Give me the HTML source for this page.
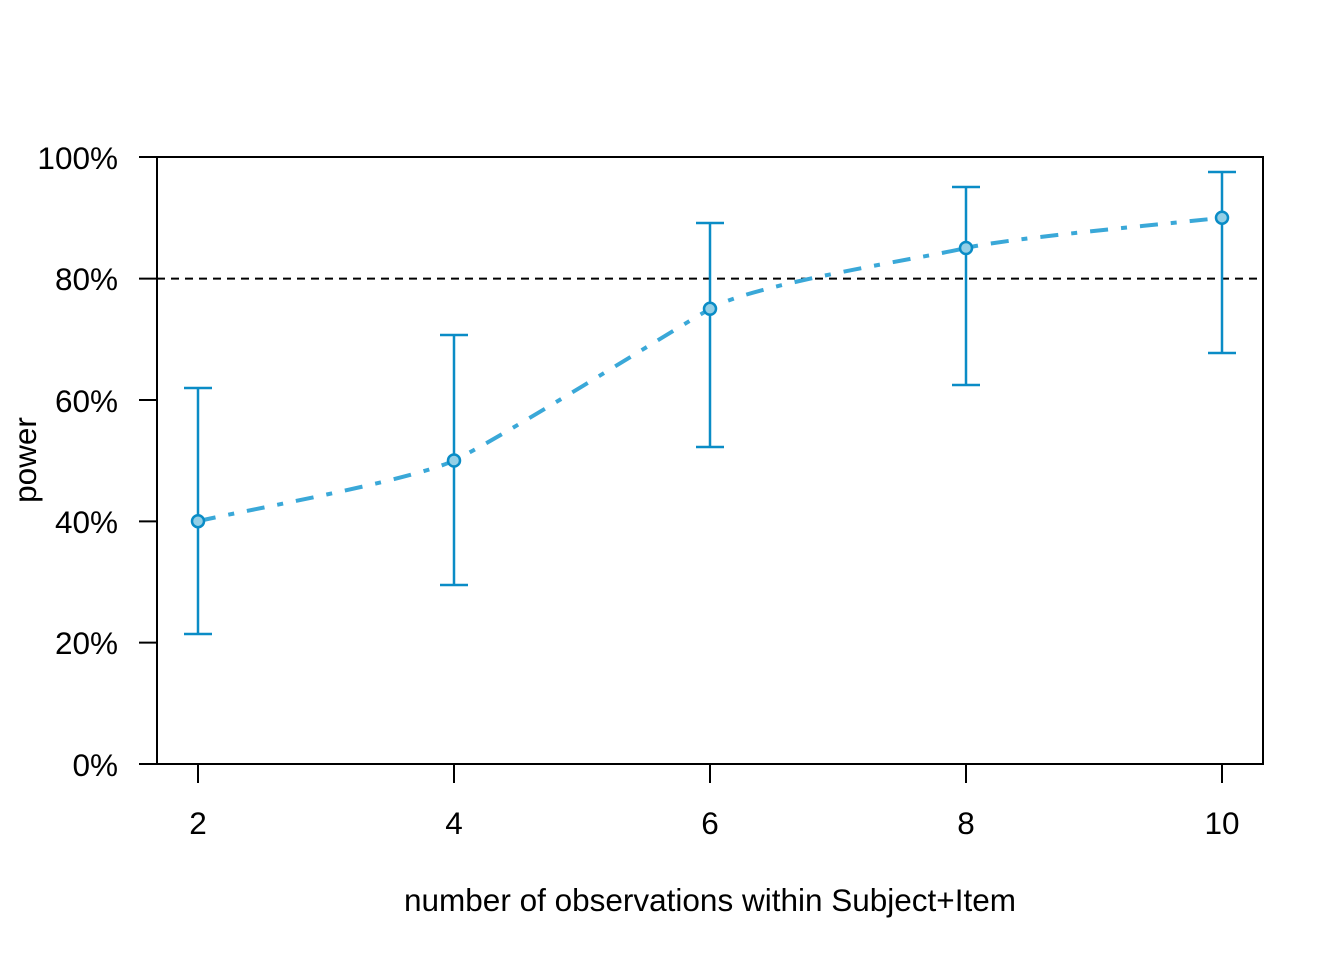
<!DOCTYPE html>
<html><head><meta charset="utf-8"><style>body{margin:0;background:#fff}svg{display:block}text{font-family:"Liberation Sans",Arial,sans-serif;fill:#000}</style></head>
<body>
<svg width="1344" height="960" viewBox="0 0 1344 960" xmlns="http://www.w3.org/2000/svg">
<rect x="157" y="157" width="1106" height="607" fill="none" stroke="#000" stroke-width="2"/>
<g stroke="#000" stroke-width="2">
<line x1="139" y1="157" x2="157" y2="157"/><line x1="139" y1="278.6" x2="157" y2="278.6"/><line x1="139" y1="400" x2="157" y2="400"/><line x1="139" y1="521.4" x2="157" y2="521.4"/><line x1="139" y1="642.6" x2="157" y2="642.6"/><line x1="139" y1="764" x2="157" y2="764"/>
<line x1="198" y1="764" x2="198" y2="783"/><line x1="454" y1="764" x2="454" y2="783"/><line x1="710" y1="764" x2="710" y2="783"/><line x1="966" y1="764" x2="966" y2="783"/><line x1="1222" y1="764" x2="1222" y2="783"/>
</g>
<g font-size="31.5" text-anchor="end">
<text x="118" y="169">100%</text><text x="118" y="290">80%</text><text x="118" y="412">60%</text><text x="118" y="533">40%</text><text x="118" y="654">20%</text><text x="118" y="776">0%</text>
</g>
<g font-size="31.5" text-anchor="middle">
<text x="198" y="834">2</text><text x="454" y="834">4</text><text x="710" y="834">6</text><text x="966" y="834">8</text><text x="1222" y="834">10</text>
<text x="710" y="911">number of observations within Subject+Item</text>
<text transform="translate(36,460) rotate(-90)">power</text>
</g>
<line x1="157" y1="278.6" x2="1263" y2="278.6" stroke="#000" stroke-width="2" stroke-dasharray="8,6"/>
<path d="M198,521.2 C240.7,511.1 411.3,480.7 454,460.5 C496.7,440.3 667.3,333.8 710,308.8 C752.7,283.8 923.3,258.1 966,248 C1008.7,237.9 1179.3,222.8 1222,217.7" fill="none" stroke="#3AA8D8" stroke-width="4" stroke-dasharray="18,13,6,13"/>
<g stroke="#0A8CC6" stroke-width="2.5" fill="none">
<path d="M198,388V634M184,388H212M184,634H212"/>
<path d="M454,335V585M440,335H468M440,585H468"/>
<path d="M710,223V447M696,223H724M696,447H724"/>
<path d="M966,187V385M952,187H980M952,385H980"/>
<path d="M1222,172V353M1208,172H1236M1208,353H1236"/>
</g>
<g fill="#94CFE6" stroke="#0A8CC6" stroke-width="2.5">
<circle cx="198" cy="521.2" r="6"/><circle cx="454" cy="460.5" r="6"/><circle cx="710" cy="308.8" r="6"/><circle cx="966" cy="248" r="6"/><circle cx="1222" cy="217.7" r="6"/>
</g>
</svg>
</body></html>
